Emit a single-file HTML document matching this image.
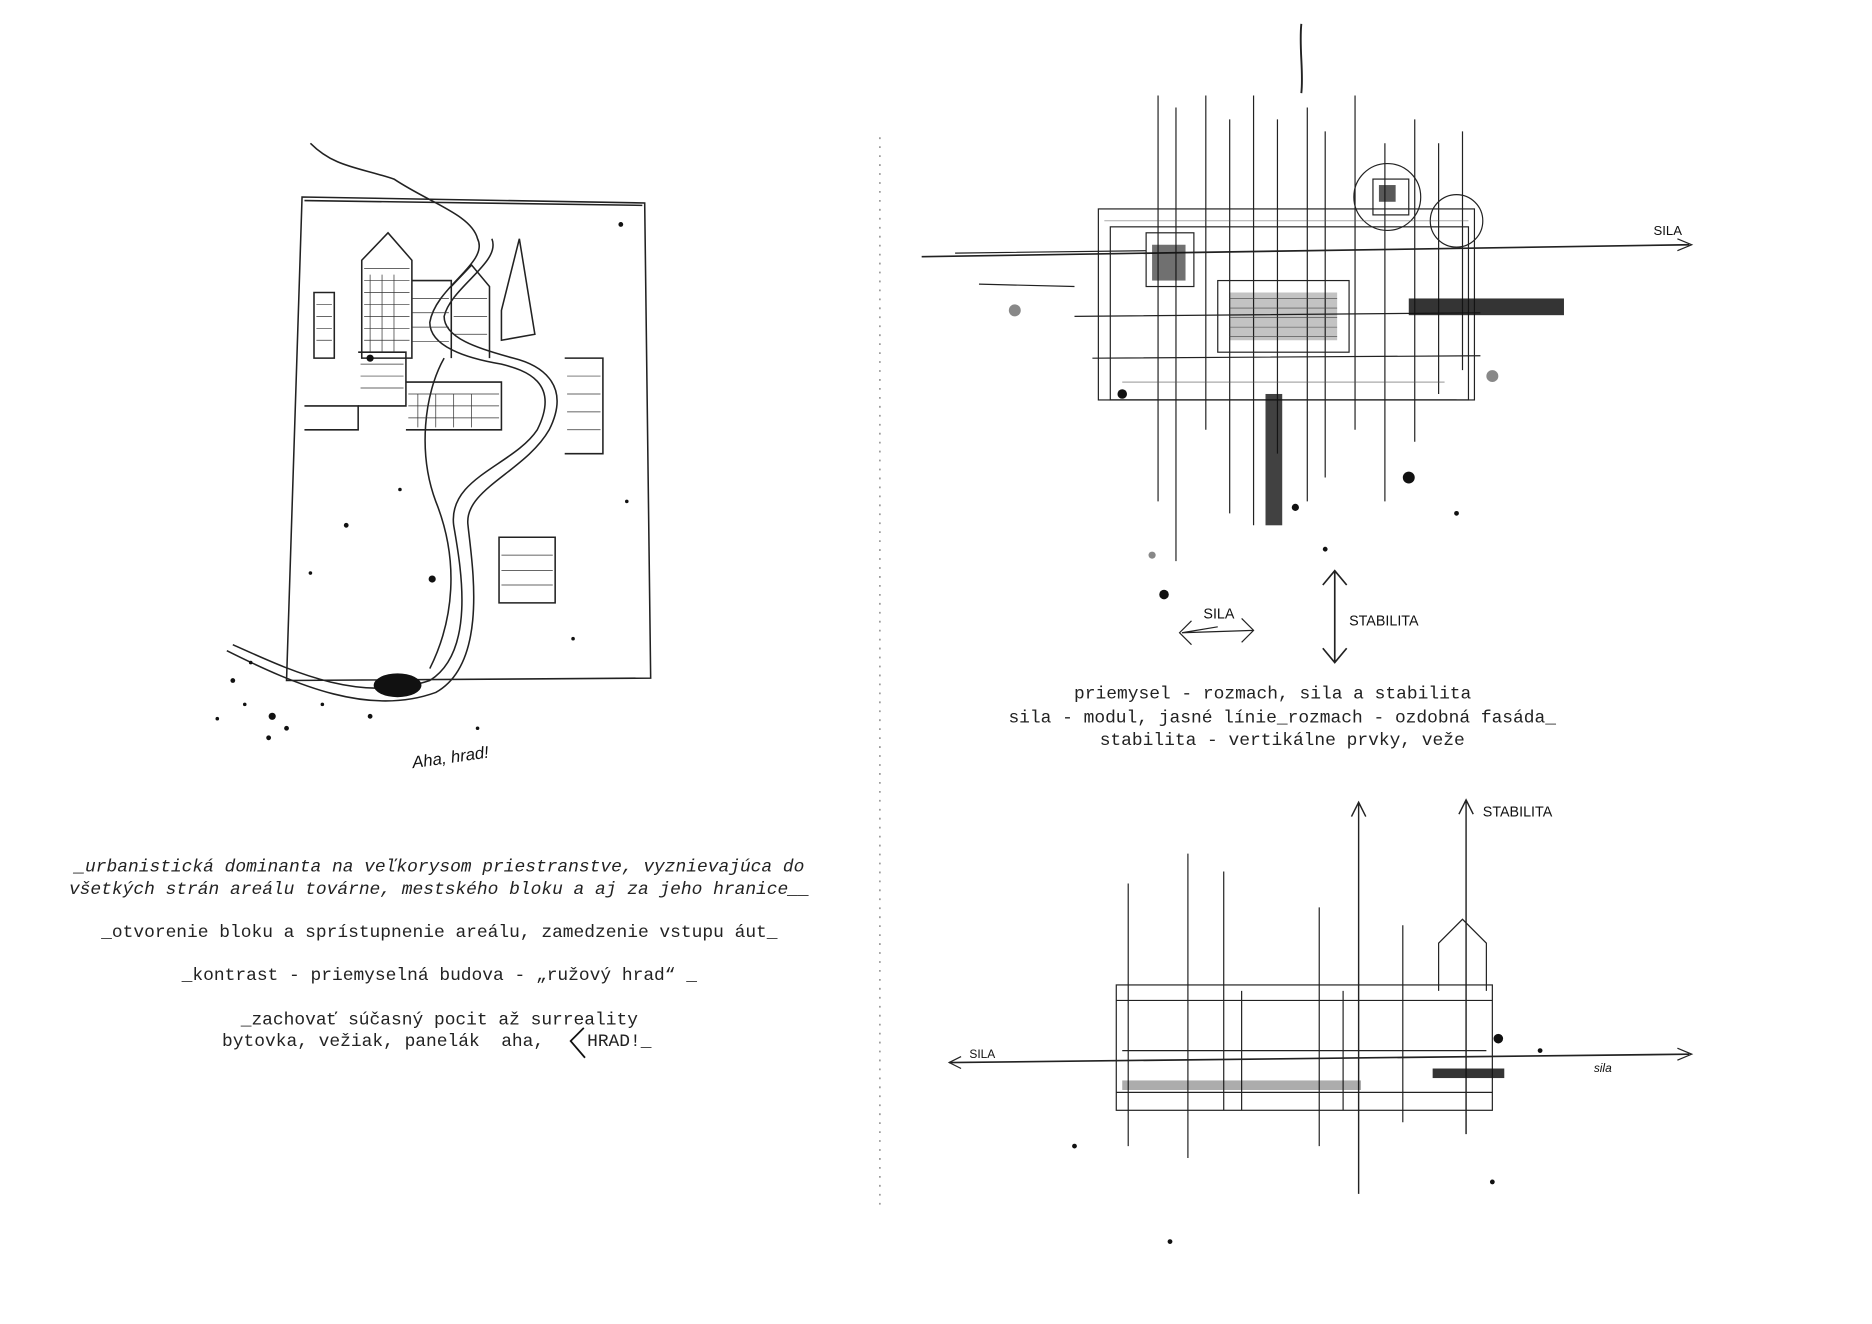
<!DOCTYPE html>
<html><head><meta charset="utf-8"><style>
html,body{margin:0;padding:0;background:#fff;}
svg{display:block}
.t{font-family:"Liberation Mono",monospace;font-size:15px;fill:#222;white-space:pre;}
.h{font-family:"Liberation Sans",sans-serif;fill:#111;}
</style></head><body>
<svg width="1872" height="1324" viewBox="0 0 1568 1109" xmlns="http://www.w3.org/2000/svg">
<rect width="1568" height="1109" fill="#fff"/>
<line x1="737" y1="115" x2="737" y2="1010" stroke="#888" stroke-width="1.2" stroke-dasharray="1.5 6"/>

<!-- LEFT SKETCH -->
<g stroke="#222" fill="none" stroke-width="1.3">
<path d="M253 165 L540 170 L545 568 L240 570 Z"/>
<path d="M255 168 L538 172"/>
<path d="M303 218 L325 195 L345 218 L345 300 L303 300 Z"/>
<path d="M345 235 L378 235 L378 300"/>
<path d="M378 240 L395 222 L410 240 L410 300"/>
<path d="M420 260 L435 200 L448 280 L420 285 Z"/>
<path d="M263 245 L280 245 L280 300 L263 300 Z"/>
<path d="M300 295 L340 295 L340 340 L300 340"/>
<path d="M340 320 L420 320 L420 360 L340 360"/>
<path d="M255 340 L300 340 L300 360 L255 360"/>
<path d="M473 300 L505 300 L505 380 L473 380"/>
<path d="M418 450 L465 450 L465 505 L418 505 Z"/>
<path d="M195 540 C240 560 300 590 360 570 C400 545 385 470 380 440 C375 400 430 390 450 360 C470 320 440 310 420 305 C390 300 360 290 360 270 C365 240 410 220 400 200 C395 180 360 170 330 150 C300 140 280 140 260 120"/>
<path d="M190 545 C250 575 310 600 365 580 C410 555 395 470 392 440 C388 410 440 395 460 360 C480 320 450 305 430 300 C400 292 372 283 372 265 C378 240 420 220 412 200"/>
<path d="M372 300 C355 330 350 380 365 420 C385 470 380 520 360 560"/>
</g>
<g stroke="#333" stroke-width="0.6" fill="none">
<path d="M305 225 H343 M305 235 H343 M305 245 H343 M305 255 H343 M305 265 H343 M305 275 H343 M305 285 H343"/>
<path d="M345 250 H376 M345 262 H376 M345 274 H376 M345 286 H376 M380 250 H408 M380 265 H408 M380 280 H408"/>
<path d="M302 305 H338 M302 315 H338 M302 325 H338 M342 330 H418 M342 340 H418 M342 350 H418"/>
<path d="M265 255 H278 M265 265 H278 M265 275 H278 M265 285 H278 M475 315 H503 M475 330 H503 M475 345 H503 M475 360 H503"/>
<path d="M420 465 H463 M420 478 H463 M420 490 H463"/>
<path d="M310 230 V295 M320 230 V295 M330 230 V295 M350 330 V358 M365 330 V358 M380 330 V358 M395 330 V358"/>
</g>
<g fill="#111">
<ellipse cx="333" cy="574" rx="20" ry="10"/>
<circle cx="310" cy="300" r="3"/><circle cx="362" cy="485" r="3"/><circle cx="228" cy="600" r="3"/>
<circle cx="520" cy="188" r="2"/><circle cx="195" cy="570" r="2"/><circle cx="205" cy="590" r="1.5"/>
<circle cx="290" cy="440" r="2"/><circle cx="335" cy="410" r="1.5"/><circle cx="525" cy="420" r="1.5"/>
<circle cx="480" cy="535" r="1.5"/><circle cx="260" cy="480" r="1.5"/><circle cx="310" cy="600" r="2"/>
<circle cx="270" cy="590" r="1.5"/><circle cx="240" cy="610" r="2"/><circle cx="400" cy="610" r="1.5"/>
<circle cx="225" cy="618" r="2"/><circle cx="182" cy="602" r="1.5"/><circle cx="210" cy="555" r="1.5"/>
</g>
<text x="345" y="640" class="h" font-size="14" font-style="italic" transform="rotate(-8 370 635)">Aha, hrad!</text>

<text class="t" font-style="italic" x="368" y="730" text-anchor="middle">_urbanistická dominanta na veľkorysom priestranstve, vyznievajúca do</text>
<text class="t" font-style="italic" x="368" y="749" text-anchor="middle">všetkých strán areálu továrne, mestského bloku a aj za jeho hranice__</text>
<text class="t" x="368" y="785" text-anchor="middle">_otvorenie bloku a sprístupnenie areálu, zamedzenie vstupu áut_</text>
<text class="t" x="368" y="821" text-anchor="middle">_kontrast - priemyselná budova - „ružový hrad“ _</text>
<text class="t" x="368" y="858" text-anchor="middle">_zachovať súčasný pocit až surreality</text>
<text class="t" x="186" y="876" xml:space="preserve">bytovka, vežiak, panelák  aha,    HRAD!_</text>
<path d="M489 861 L478 872 L490 886" stroke="#111" stroke-width="1.5" fill="none"/>

<!-- RIGHT TOP SKETCH -->
<g stroke="#222" fill="none" stroke-width="1">
<path d="M1090 20 C1088 40 1092 60 1090 78" stroke-width="1.6"/>
<path d="M772 215 L1415 205" stroke-width="1.4"/>
<path d="M1405 200 L1417 205 L1405 210"/>
<path d="M800 212 L960 210 M820 238 L900 240"/>
<rect x="920" y="175" width="315" height="160"/>
<rect x="930" y="190" width="300" height="145"/>
<rect x="960" y="195" width="40" height="45"/>
<rect x="1020" y="235" width="110" height="60"/>
<rect x="1150" y="150" width="30" height="30"/>
<circle cx="1162" cy="165" r="28"/>
<circle cx="1220" cy="185" r="22"/>
<path d="M970 80 V420 M985 90 V470 M1010 80 V360 M1030 100 V430 M1050 80 V440 M1070 100 V380 M1095 90 V420 M1110 110 V400 M1135 80 V360 M1160 120 V420 M1185 100 V370 M1205 120 V330 M1225 110 V310"/>
<path d="M900 265 L1240 262 M915 300 L1240 298 M930 335 L1220 335"/>
<path d="M1020 525 L990 530 M998 520 L988 530 L998 540 M990 530 L1050 528 M1040 518 L1050 528 L1040 538"/>
<path d="M1118 478 L1118 555 M1108 490 L1118 478 L1128 490 M1108 543 L1118 555 L1128 543" stroke-width="1.4"/>
</g>
<g stroke="#555" stroke-width="0.5" fill="none">
<path d="M1030 250 H1120 M1030 258 H1120 M1030 266 H1120 M1030 274 H1120 M1030 282 H1120 M940 320 H1210 M925 185 H1230"/>
</g>
<g fill="#111">
<rect x="1180" y="250" width="130" height="14" opacity="0.85"/>
<rect x="1060" y="330" width="14" height="110" opacity="0.8"/>
<rect x="965" y="205" width="28" height="30" opacity="0.6"/>
<rect x="1155" y="155" width="14" height="14" opacity="0.7"/>
<rect x="1030" y="245" width="90" height="40" opacity="0.25"/>
<circle cx="975" cy="498" r="4"/><circle cx="1085" cy="425" r="3"/><circle cx="1180" cy="400" r="5"/>
<circle cx="940" cy="330" r="4"/><circle cx="850" cy="260" r="5" opacity="0.5"/><circle cx="1250" cy="315" r="5" opacity="0.5"/>
<circle cx="965" cy="465" r="3" opacity="0.5"/><circle cx="1110" cy="460" r="2"/><circle cx="1220" cy="430" r="2"/>
</g>
<text x="1385" y="197" class="h" font-size="11">SILA</text>
<text x="1008" y="518" class="h" font-size="12">SILA</text>
<text x="1130" y="524" class="h" font-size="12">STABILITA</text>

<text class="t" x="1066" y="585" text-anchor="middle">priemysel - rozmach, sila a stabilita</text>
<text class="t" x="1074" y="605" text-anchor="middle">sila - modul, jasné línie_rozmach - ozdobná fasáda_</text>
<text class="t" x="1074" y="624" text-anchor="middle">stabilita - vertikálne prvky, veže</text>

<!-- RIGHT BOTTOM SKETCH -->
<g stroke="#222" fill="none" stroke-width="1">
<path d="M795 890 L1415 883" stroke-width="1.4"/>
<path d="M805 885 L795 890 L805 895 M1405 878 L1417 883 L1405 888"/>
<path d="M1228 950 V670 M1222 682 L1228 670 L1234 682" stroke-width="1.2"/>
<path d="M1138 1000 V672 M1132 684 L1138 672 L1144 684" stroke-width="1.2"/>
<path d="M945 960 V740 M995 970 V715 M1025 930 V730 M1105 960 V760 M1175 940 V775"/>
<rect x="935" y="825" width="315" height="105"/>
<path d="M935 838 H1250 M940 880 H1245 M935 915 H1250"/>
<path d="M1205 830 V790 L1225 770 L1245 790 V830"/>
<path d="M1040 830 L1040 930 M1125 830 L1125 930"/>
</g>
<g fill="#111">
<rect x="1200" y="895" width="60" height="8" opacity="0.85"/>
<rect x="940" y="905" width="200" height="8" opacity="0.35"/>
<circle cx="900" cy="960" r="2"/><circle cx="1255" cy="870" r="4"/><circle cx="980" cy="1040" r="2"/>
<circle cx="1250" cy="990" r="2"/><circle cx="1290" cy="880" r="2"/>
</g>
<text x="1242" y="684" class="h" font-size="12">STABILITA</text>
<text x="812" y="886" class="h" font-size="10">SILA</text>
<text x="1335" y="898" class="h" font-size="10" font-style="italic">sila</text>
</svg>
</body></html>
